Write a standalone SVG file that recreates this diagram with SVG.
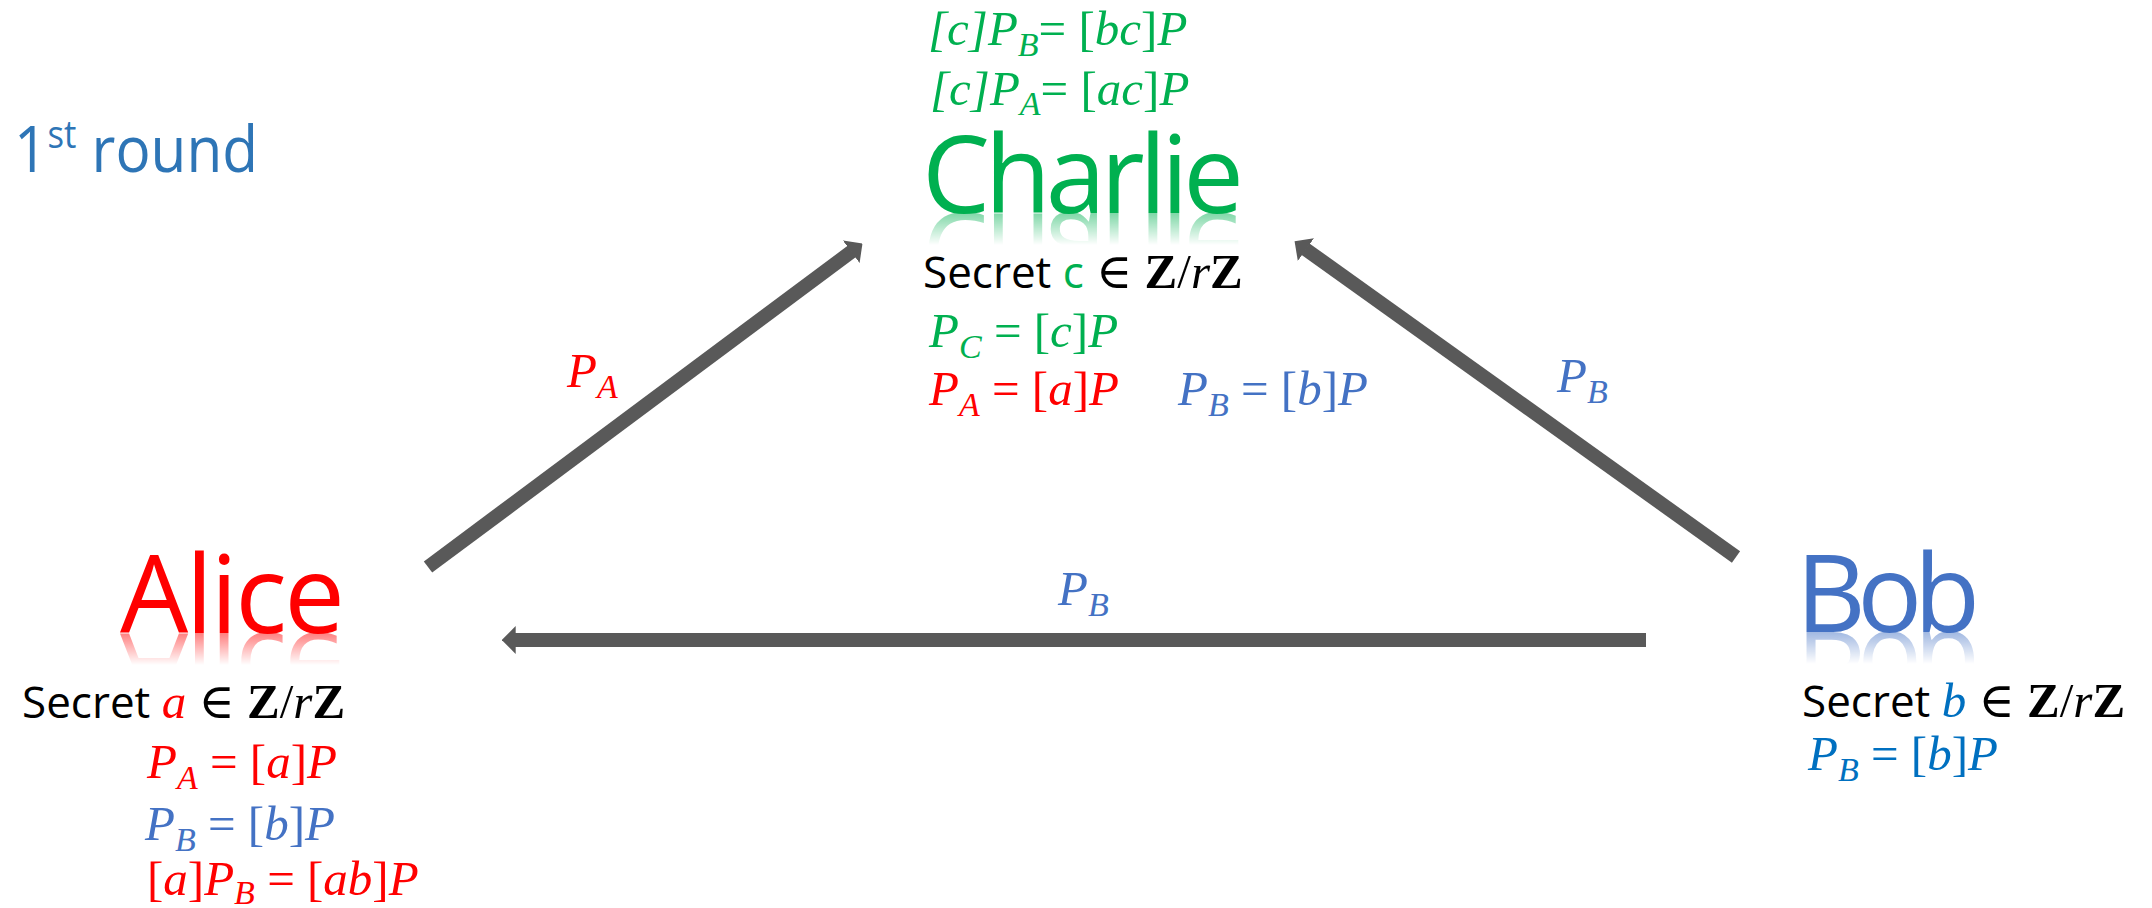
<svg xmlns="http://www.w3.org/2000/svg" width="2152" height="908" viewBox="0 0 2152 908">
  <style>
    .sans { font-family: "Open Sans", "Noto Sans", sans-serif; }
    .math { font-family: "Liberation Serif", "DejaVu Serif", serif; font-style: italic; font-size: 49px; }
    .sub { font-size: 34px; }
    .up { font-style: normal; }
    .bold { font-weight: bold; font-style: normal; }
    .name { font-family: "Open Sans", "Noto Sans", sans-serif; font-size: 108px; }
    .sec { font-family: "Open Sans", "Noto Sans", sans-serif; font-size: 44px; fill: #000; }
    .red { fill: #FF0000; }
    .blue { fill: #4472C4; }
    .dblue { fill: #0070C0; }
    .green { fill: #00B050; }
    .conn { stroke: #595959; stroke-width: 14; fill: none; }
  </style>
  <defs>
    <marker id="head" viewBox="0 0 1 2" refX="0.05" refY="1" markerWidth="1" markerHeight="2" markerUnits="strokeWidth" orient="auto">
      <path d="M0,0 L1,1 L0,2 Z" fill="#595959"/>
    </marker>
    <linearGradient id="fade" x1="0" y1="0" x2="0" y2="1">
      <stop offset="0" stop-color="#fff" stop-opacity="0.5"/>
      <stop offset="1" stop-color="#fff" stop-opacity="0"/>
    </linearGradient>
    <mask id="mA" maskUnits="userSpaceOnUse" x="0" y="0" width="2152" height="908">
      <rect x="100" y="633" width="280" height="32" fill="url(#fade)"/>
    </mask>
    <mask id="mB" maskUnits="userSpaceOnUse" x="0" y="0" width="2152" height="908">
      <rect x="1780" y="632" width="220" height="32" fill="url(#fade)"/>
    </mask>
    <mask id="mC" maskUnits="userSpaceOnUse" x="0" y="0" width="2152" height="908">
      <rect x="900" y="213" width="370" height="32" fill="url(#fade)"/>
    </mask>
  </defs>
  <rect width="2152" height="908" fill="#fff"/>

  <g id="title">
    <text class="sans" x="14" y="172" font-size="64" fill="#2E75B6" textLength="244" lengthAdjust="spacingAndGlyphs">1<tspan font-size="38" dy="-24">st</tspan><tspan dy="24"> round</tspan></text>
  </g>

  <g id="connectors">
    <line class="conn" x1="428" y1="567" x2="851.8" y2="251.4" marker-end="url(#head)"/>
    <line class="conn" x1="1736" y1="557" x2="1305.4" y2="249.1" marker-end="url(#head)"/>
    <line class="conn" x1="1646" y1="640" x2="515" y2="640" marker-end="url(#head)"/>
    <text class="math red" x="567" y="387">P<tspan class="sub" dy="11">A</tspan></text>
    <text class="math blue" x="1557" y="392">P<tspan class="sub" dy="11">B</tspan></text>
    <text class="math blue" x="1058" y="605">P<tspan class="sub" dy="11">B</tspan></text>
  </g>

  <g id="charlie">
    <text class="math green" x="928" y="45">[c]P<tspan class="sub" dy="11">B</tspan><tspan class="up" dy="-11">= [</tspan>bc<tspan class="up">]</tspan>P</text>
    <text class="math green" x="930" y="105">[c]P<tspan class="sub" dy="10">A</tspan><tspan class="up" dy="-10">= [</tspan>ac<tspan class="up">]</tspan>P</text>
    <text id="charlieName" class="name green" x="922" y="213" textLength="322">Charlie</text>
    <g mask="url(#mC)">
      <use href="#charlieName" transform="translate(0,426) scale(1,-1)"/>
    </g>
    <text class="sec" x="923" y="288">Secret <tspan class="green">c</tspan><tspan class="math up" font-size="48"> ∈ </tspan><tspan class="math bold" font-size="48">Z</tspan><tspan class="math up" font-size="48">/</tspan><tspan class="math" font-size="48">r</tspan><tspan class="math bold" font-size="48">Z</tspan></text>
    <text class="math green" x="929" y="347">P<tspan class="sub" dy="11">C</tspan><tspan class="up" dy="-11"> = [</tspan>c<tspan class="up">]</tspan>P</text>
    <text class="math red" x="929" y="405">P<tspan class="sub" dy="11">A</tspan><tspan class="up" dy="-11"> = [</tspan>a<tspan class="up">]</tspan>P</text>
    <text class="math blue" x="1178" y="405">P<tspan class="sub" dy="11">B</tspan><tspan class="up" dy="-11"> = [</tspan>b<tspan class="up">]</tspan>P</text>
  </g>

  <g id="alice">
    <text id="aliceName" class="name red" x="120" y="633" textLength="225">Alice</text>
    <g mask="url(#mA)">
      <use href="#aliceName" transform="translate(0,1266) scale(1,-1)"/>
    </g>
    <text class="sec" x="22" y="718">Secret <tspan class="math red" font-size="50">a</tspan><tspan class="math up" font-size="48"> ∈ </tspan><tspan class="math bold" font-size="48">Z</tspan><tspan class="math up" font-size="48">/</tspan><tspan class="math" font-size="48">r</tspan><tspan class="math bold" font-size="48">Z</tspan></text>
    <text class="math red" x="147" y="778">P<tspan class="sub" dy="11">A</tspan><tspan class="up" dy="-11"> = [</tspan>a<tspan class="up">]</tspan>P</text>
    <text class="math blue" x="145" y="840">P<tspan class="sub" dy="11">B</tspan><tspan class="up" dy="-11"> = [</tspan>b<tspan class="up">]</tspan>P</text>
    <text class="math red" x="147" y="895"><tspan class="up">[</tspan>a<tspan class="up">]</tspan>P<tspan class="sub" dy="9">B</tspan><tspan class="up" dy="-9"> = [</tspan>ab<tspan class="up">]</tspan>P</text>
  </g>

  <g id="bob">
    <text id="bobName" class="name blue" x="1796" y="632" textLength="184">Bob</text>
    <g mask="url(#mB)">
      <use href="#bobName" transform="translate(0,1264) scale(1,-1)"/>
    </g>
    <text class="sec" x="1802" y="717">Secret <tspan class="math dblue" font-size="50">b</tspan><tspan class="math up" font-size="48"> ∈ </tspan><tspan class="math bold" font-size="48">Z</tspan><tspan class="math up" font-size="48">/</tspan><tspan class="math" font-size="48">r</tspan><tspan class="math bold" font-size="48">Z</tspan></text>
    <text class="math dblue" x="1808" y="770">P<tspan class="sub" dy="11">B</tspan><tspan class="up" dy="-11"> = [</tspan>b<tspan class="up">]</tspan>P</text>
  </g>
</svg>
